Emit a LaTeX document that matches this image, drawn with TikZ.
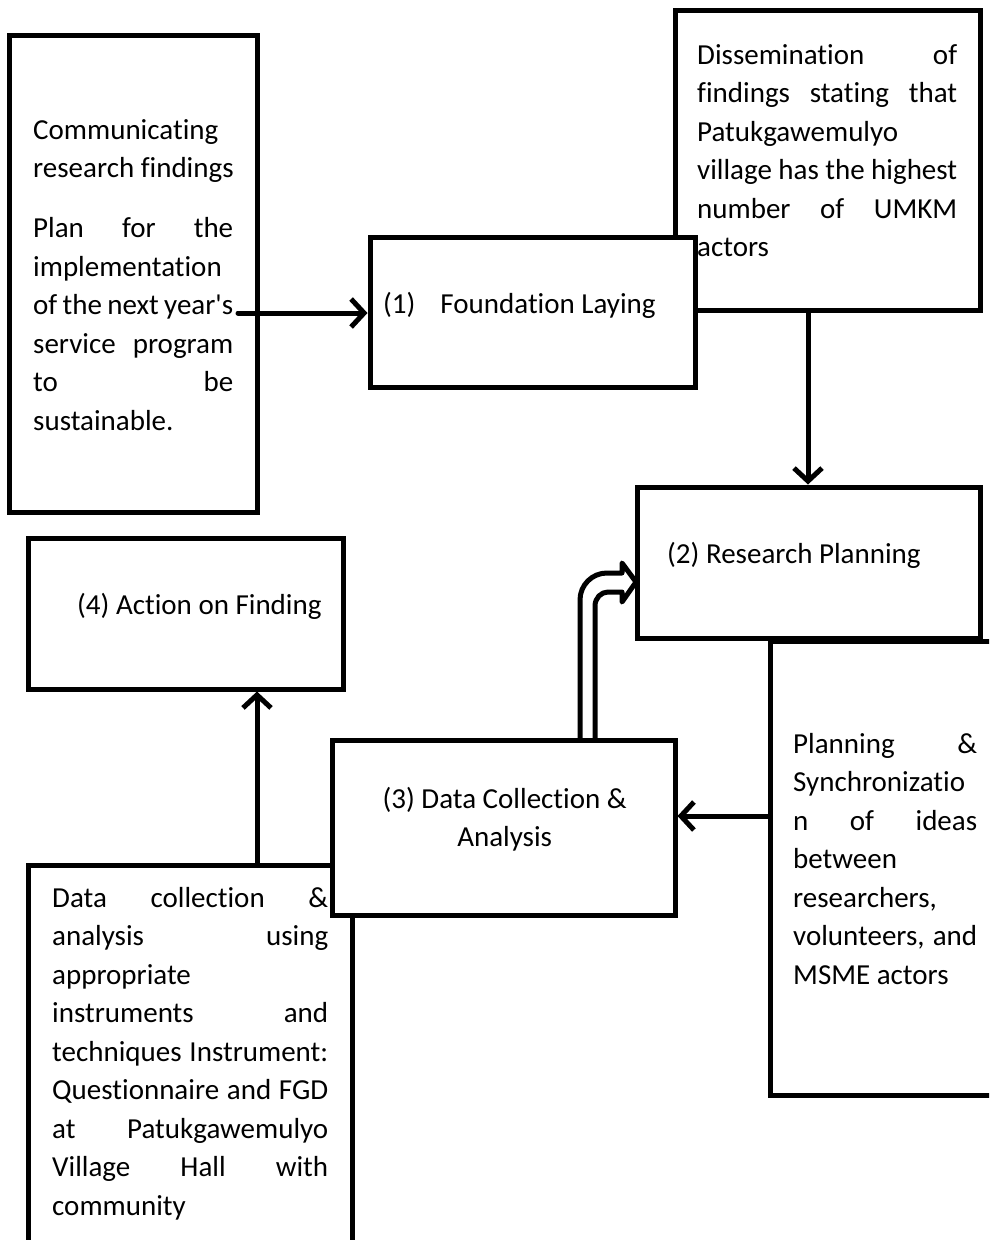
\documentclass[tikz,border=0pt]{standalone}
\usepackage{fontspec}
\setmainfont{Carlito}[Ligatures={NoCommon}]
\usetikzlibrary{arrows.meta}
\newcommand\Lines[1]{\vtop{\baselineskip=38.5pt\lineskiplimit=-60pt\lineskip=0pt\relax #1}}
\newcommand\JL[2]{\hbox to #1{#2}}
\begin{document}
\begin{tikzpicture}[x=1pt,y=-1pt,
  box/.style={draw, line width=5pt, fill=white, inner sep=0pt},
  txt/.style={inner sep=0pt, anchor=base west},
  arr/.style={line width=5pt, line cap=round, -{Straight Barb[length=13pt,width=28pt]}},
  dblarrow/.style={line width=5pt, line join=round, line cap=butt},
  font=\fontsize{29}{38.5}\selectfont]
\useasboundingbox (0,0) rectangle (989,1240);
\clip (0,0) rectangle (989,1240);
\fill[white] (0,0) rectangle (989,1240);

% top-left box
\node[box, minimum width=248pt, minimum height=477pt] (A) at (133,273.5) {};
\node[txt] (tA) at (33,139) {\Lines{%
  \hbox{Communicating}
  \hbox{research findings}
  \vskip21.5pt
  \JL{200pt}{Plan for the}
  \hbox{implementation}
  \JL{200pt}{of the next year\textquotesingle s}
  \JL{200pt}{service program}
  \JL{200pt}{to be}
  \hbox{sustainable.}}};

% (4) action box
\node[box, minimum width=315pt, minimum height=151pt] (act) at (185.5,613.5) {};

% dissemination box
\node[box, minimum width=305pt, minimum height=300pt] (diss) at (827.5,160) {};
\node[txt] (tD) at (697,64) {\Lines{%
  \JL{260pt}{Dissemination of}
  \JL{260pt}{findings stating that}
  \hbox{Patukgawemulyo}
  \JL{260pt}{village has the highest}
  \JL{260pt}{number of UMKM}
  \hbox{actors}}};

% (1) foundation box
\node[box, minimum width=325pt, minimum height=150pt] (found) at (532.5,312) {};

% (2) research planning
\node[box, minimum width=225pt, minimum height=454pt] (plan) at (882.5,868) {};
\node[box, minimum width=343pt, minimum height=151pt] (rp) at (808.5,562.5) {};
\node[txt] (tP) at (793,753) {\Lines{%
  \JL{184pt}{Planning \&}
  \hbox{Synchronizatio}
  \JL{184pt}{n of ideas}
  \hbox{between}
  \hbox{researchers,}
  \JL{184pt}{volunteers, and}
  \hbox{MSME actors}}};

% bottom-left box
\node[box, minimum width=324pt, minimum height=395pt] (bl) at (190,1062.5) {};
\node[txt] (tB) at (52,907) {\Lines{%
  \JL{276pt}{Data collection \&}
  \JL{276pt}{analysis using}
  \hbox{appropriate}
  \JL{276pt}{instruments and}
  \JL{276pt}{techniques Instrument:}
  \JL{276pt}{Questionnaire and FGD}
  \JL{276pt}{at Patukgawemulyo}
  \JL{276pt}{Village Hall with}
  \hbox{community}}};

% double (outline) bent arrow from (3) to (2)
\coordinate (dA) at (580,0);
\coordinate (dB) at (595,0);
\draw[dblarrow] (dA |- 0,742) -- (580,600) .. controls (580,585) and (592,573) .. (607,573)
  -- (622,573) -- (622,563) -- (636,582) -- (622,602) -- (622,592) -- (608,592)
  .. controls (601,592) and (595,598) .. (595,606) -- (dB |- 0,742);

% (3) data collection box
\node[box, minimum width=343pt, minimum height=175pt] (data) at (503.5,827.5) {};

% labels
\node[txt] (l1) at (383,313) {(1)\hspace{25pt}Foundation Laying};
\node[txt] (l2) at (667,563) {(2) Research Planning};
\node[txt] (l4) at (77,614) {(4) Action on Finding};
\node[txt] (l3) at (504,808) {\Lines{%
  \hbox to 0pt{\hss(3) Data Collection \&\hss}
  \hbox to 0pt{\hss Analysis\hss}}};

% connectors
\coordinate (a1) at (238,313);
\coordinate (x808) at (808,0);
\coordinate (y816) at (0,816);
\coordinate (x257) at (257,0);
\draw[arr] (a1) -- (found.west |- a1);
\draw[arr] (x808 |- diss.south) -- (x808 |- rp.north);
\draw[arr] (plan.west |- y816) -- (data.east |- y816);
\draw[arr] (x257 |- bl.north) -- (x257 |- act.south);
\end{tikzpicture}
\end{document}
